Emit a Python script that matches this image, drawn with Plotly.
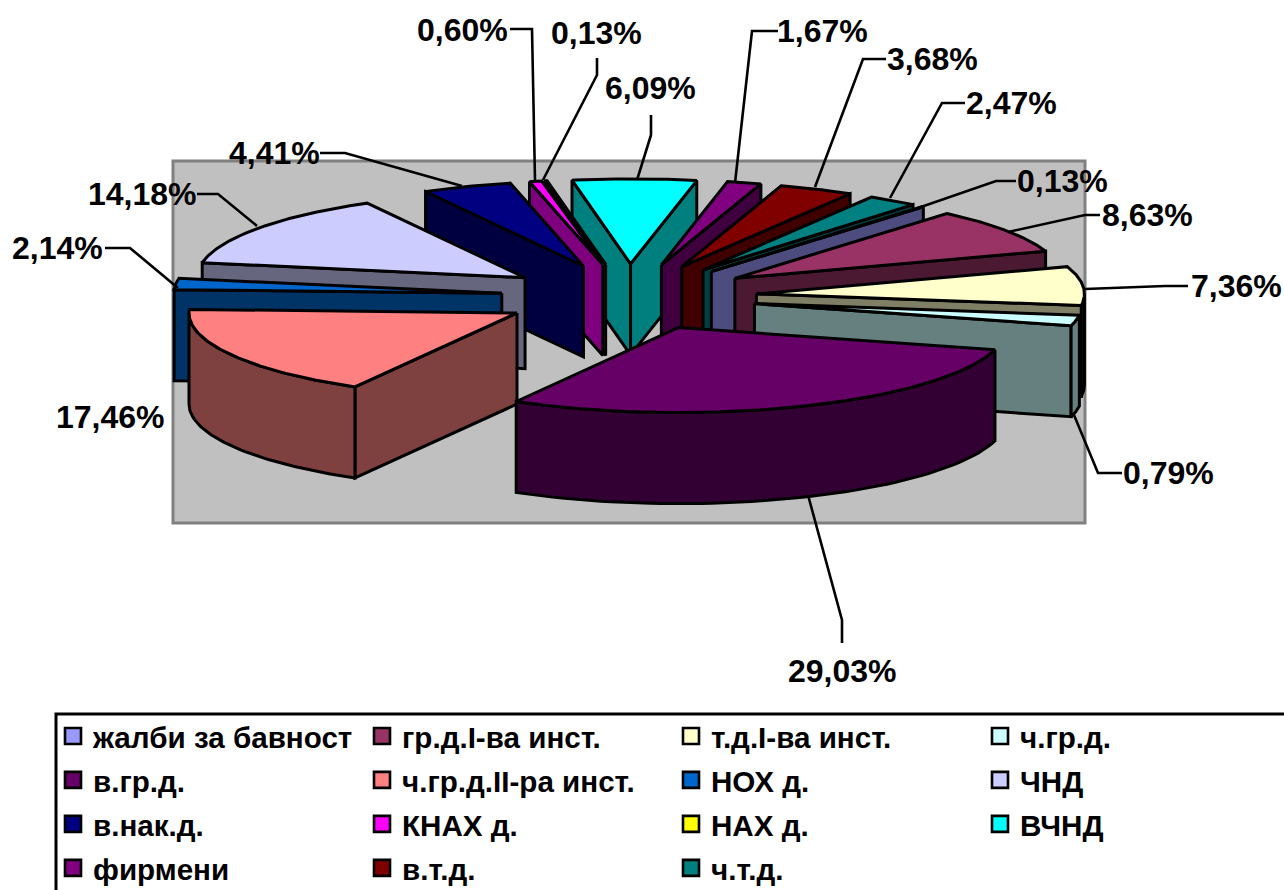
import numpy as np
import plotly.graph_objects as go

categories = ["жалби за бавност", "гр.д.I-ва инст.", "т.д.I-ва инст.", "ч.гр.д.", "в.гр.д.",
              "ч.гр.д.II-ра инст.", "НОХ д.", "ЧНД", "в.нак.д.", "КНАХ д.", "НАХ д.", "ВЧНД",
              "фирмени", "в.т.д.", "ч.т.д."]
values = [0.13, 8.63, 7.36, 0.79, 29.03, 17.46, 2.14, 14.18, 4.41, 0.60, 0.13, 6.09, 1.67, 3.68, 2.47]
colors = ["#9999FF", "#993366", "#FFFFCC", "#CCFFFF", "#660066", "#FF8080", "#0066CC", "#CCCCFF",
          "#000080", "#FF00FF", "#FFFF00", "#00FFFF", "#800080", "#800000", "#008080"]

# pie projection
CX, CY = 629, 297
RX, RY = 328, 85
EXPL = 128
DEPTH = 91
START = 39.8
REST_IN = 3  # the labels add up to 98.77 %; the drawn ч.гр.д. slice takes up the remainder

# label anchor (centre) and leader polyline, per category order
label_pos = [(1062, 181), (1147, 215), (1236, 286), (1168, 473), (842, 671), (110, 417), (57, 248),
             (142, 194), (274, 153), (462, 30), (596, 33), (650, 88), (822, 31), (932, 59), (1011, 103)]
leaders = [[(1016, 181), (996, 181), (918, 208)],
           [(1100, 215), (1085, 215), (1008, 232)],
           [(1188, 286), (1165, 286), (1085, 289)],
           [(1122, 473), (1098, 473), (1074, 415)],
           [(842, 643), (842, 620), (808, 495)],
           [],
           [(105, 248), (130, 248), (178, 288)],
           [(197, 194), (218, 194), (257, 226)],
           [(320, 153), (345, 153), (462, 186)],
           [(510, 29), (532, 29), (535, 180)],
           [(597, 58), (597, 75), (543, 180)],
           [(651, 115), (651, 135), (637, 180)],
           [(778, 31), (752, 31), (735, 183)],
           [(886, 59), (863, 59), (815, 187)],
           [(965, 103), (942, 103), (890, 198)]]


def darker(hex_color):
    r, g, b = (int(hex_color[i:i + 2], 16) // 2 for i in (1, 3, 5))
    return f"#{r:02X}{g:02X}{b:02X}"


def rim(ax, ay, angles):
    a = np.radians(angles)
    return ax + RX * np.sin(a), ay - RY * np.cos(a)


fig = go.Figure()


def poly(xs, ys, fill):
    fig.add_trace(go.Scatter(x=list(xs) + [xs[0]], y=list(ys) + [ys[0]], mode="lines", fill="toself",
                             fillcolor=fill, line=dict(color="black", width=3), hoverinfo="skip",
                             showlegend=False))


rest = 100 - sum(values)
slices = []
pos = 0.0
for i, v in enumerate(values):
    width = v + rest if i == REST_IN else v
    a0 = START + pos * 3.6
    a1 = START + (pos + width) * 3.6
    pos += width
    mid = np.radians((a0 + a1) / 2)
    slices.append((np.cos(mid), i, a0, a1, mid))
slices.sort(key=lambda s: -s[0])

for _, i, a0, a1, mid in slices:
    ax = CX + EXPL * np.sin(mid)
    ay = CY - EXPL * np.cos(mid) * RY / RX
    col, side = colors[i], darker(colors[i])
    if np.sin(np.radians(a0)) < 0:
        px, py = rim(ax, ay, np.array([a0]))
        poly([ax, px[0], px[0], ax], [ay, py[0], py[0] + DEPTH, ay + DEPTH], side)
    if np.sin(np.radians(a1)) > 0:
        px, py = rim(ax, ay, np.array([a1]))
        poly([ax, px[0], px[0], ax], [ay, py[0], py[0] + DEPTH, ay + DEPTH], side)
    lo, hi = max(a0, 90), min(a1, 270)
    if hi > lo:
        t = np.linspace(lo, hi, 60)
        px, py = rim(ax, ay, t)
        poly(list(px) + list(px[::-1]), list(py) + list((py + DEPTH)[::-1]), side)
    t = np.linspace(a0, a1, max(6, int((a1 - a0) * 2)))
    px, py = rim(ax, ay, t)
    poly([ax] + list(px), [ay] + list(py), col)

# legend entries
for name, col in zip(categories, colors):
    fig.add_trace(go.Scatter(x=[None], y=[None], mode="markers",
                             name=f'<span style="font-size:29.6px">{name}</span>',
                             marker=dict(symbol="square", size=17, color=col,
                                         line=dict(color="black", width=2.6))))

shapes = [
    dict(type="rect", x0=173, y0=161, x1=1085, y1=523, layer="below",
         fillcolor="#C0C0C0", line=dict(color="#808080", width=3)),
    dict(type="rect", x0=56, y0=714, x1=1400, y1=950, layer="below",
         fillcolor="white", line=dict(color="black", width=3)),
]
for pts in leaders:
    if pts:
        d = "M " + " L ".join(f"{x} {y}" for x, y in pts)
        shapes.append(dict(type="path", path=d, line=dict(color="black", width=2.6)))

annotations = [
    dict(x=x, y=y, text=f"{v:.2f}".replace(".", ",") + "%", showarrow=False, xanchor="center",
         yanchor="middle", font=dict(family="Liberation Sans", size=32, color="black", weight="bold"))
    for (x, y), v in zip(label_pos, values)
]

# The figure is larger than the window so that the legend box runs off the page, as in the original.
FIG_W, FIG_H = 1330, 930
fig.update_layout(
    width=FIG_W, height=FIG_H, margin=dict(l=0, r=0, t=0, b=0),
    paper_bgcolor="white", plot_bgcolor="white",
    xaxis=dict(range=[0, FIG_W], visible=False, fixedrange=True),
    yaxis=dict(range=[FIG_H, 0], visible=False, fixedrange=True),
    shapes=shapes, annotations=annotations,
    legend=dict(orientation="h", x=53 / FIG_W, y=1 - 709 / FIG_H, xanchor="left", yanchor="top",
                entrywidth=264, entrywidthmode="pixels", traceorder="normal",
                bgcolor="rgba(0,0,0,0)", borderwidth=0,
                font=dict(family="Liberation Sans", size=31.5, color="black", weight="bold")),
)
fig.write_html("out.html", config={"displayModeBar": False},
               post_script="document.body.style.margin='0';document.documentElement.style.overflow='hidden';")
